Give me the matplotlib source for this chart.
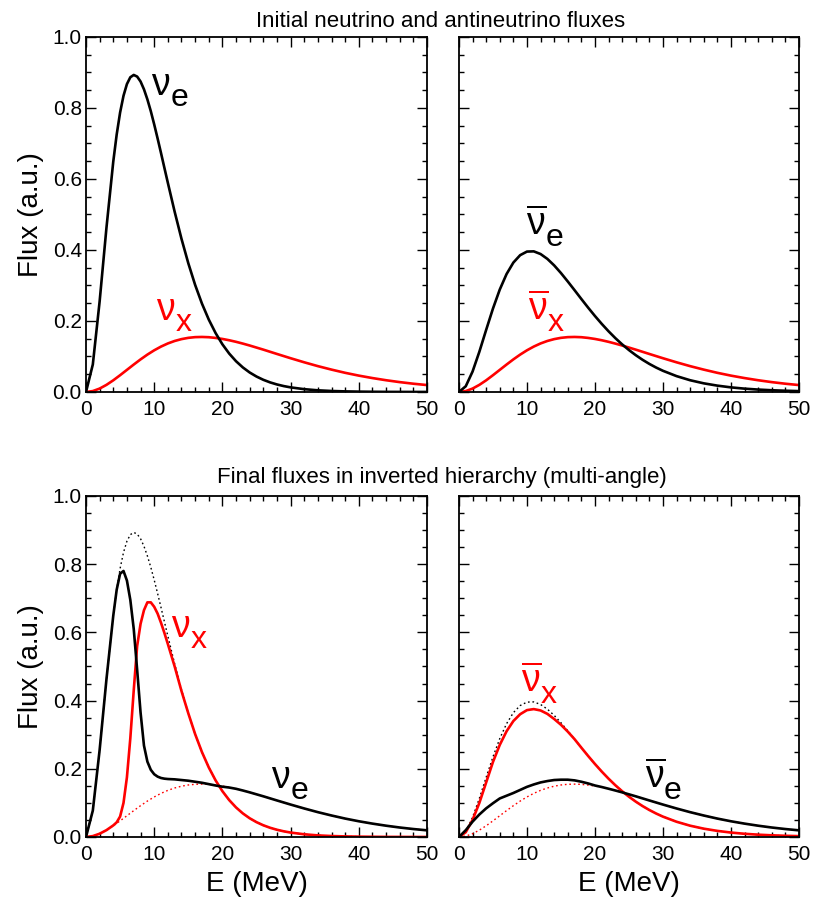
import matplotlib
matplotlib.use('Agg')
import matplotlib.pyplot as plt
from matplotlib.ticker import MultipleLocator

plt.rcParams['font.family'] = ['Liberation Sans', 'DejaVu Sans']
plt.rcParams['mathtext.fontset'] = 'custom'
plt.rcParams['mathtext.rm'] = 'Liberation Sans'
plt.rcParams['mathtext.it'] = 'Liberation Sans'

# ---------------- data ----------------
# coarse energy grid, MeV
E_INIT = list(range(0, 31)) + list(range(32, 51, 2))
# finer grid around the peaks / spectral split
E_FIN = [0, 1, 2, 3, 4, 4.5, 5, 5.5, 6, 6.5, 7, 7.5, 8, 8.5, 9, 9.5, 10, 10.5, 11, 11.5] + \
        list(range(12, 31)) + list(range(32, 51, 2))

# initial spectra
NUE_INIT = [0, 0.0775, 0.2553, 0.4626, 0.6492, 0.7252, 0.7872, 0.8344, 0.8673, 0.8865,
            0.8930, 0.8884, 0.8745, 0.8525, 0.8242, 0.7911, 0.7537, 0.7140, 0.6729, 0.6309,
            0.5892, 0.5076, 0.4315, 0.3626, 0.3017, 0.2490, 0.2040, 0.1660, 0.1343, 0.1081,
            0.0866, 0.0691, 0.0549, 0.0435, 0.0343, 0.0270, 0.0212, 0.0166, 0.0130,
            0.0079, 0.0047, 0.0028, 0.0017, 0.0010, 0.0006, 0.0003, 0.0002, 0.0001, 0.0001]
NUEB_INIT = [0, 0.0162, 0.0576, 0.1134, 0.1750, 0.2350, 0.2885, 0.3322, 0.3645, 0.3854,
             0.3955, 0.3961, 0.3886, 0.3749, 0.3566, 0.3350, 0.3113, 0.2868, 0.2619, 0.2375,
             0.2140, 0.1918, 0.1710, 0.1517, 0.1341, 0.1181, 0.1037, 0.0907, 0.0791, 0.0688,
             0.0597, 0.0447, 0.0331, 0.0244, 0.0179, 0.0130, 0.0094, 0.0068, 0.0049, 0.0035, 0.0025]
NUX_INIT = [0, 0.0026, 0.0096, 0.0201, 0.0329, 0.0473, 0.0623, 0.0773, 0.0918, 0.1053,
            0.1174, 0.1279, 0.1367, 0.1437, 0.1489, 0.1525, 0.1545, 0.1550, 0.1543, 0.1523,
            0.1494, 0.1457, 0.1413, 0.1363, 0.1309, 0.1251, 0.1193, 0.1132, 0.1071, 0.1011,
            0.0951, 0.0836, 0.0728, 0.0630, 0.0540, 0.0461, 0.0392, 0.0331, 0.0278, 0.0233, 0.0195]

# final neutrino spectra (E_FIN grid)
NUE_FIN = [0, 0.0775, 0.2553, 0.4626, 0.6492, 0.725, 0.772, 0.780, 0.752, 0.695,
           0.610, 0.490, 0.365, 0.268, 0.221, 0.197, 0.184, 0.177, 0.173, 0.171,
           0.170, 0.169, 0.167, 0.165, 0.162, 0.159, 0.155, 0.151, 0.1475, 0.1450,
           0.1413, 0.1363, 0.1309, 0.1251, 0.1193, 0.1132, 0.1071, 0.1011, 0.0951,
           0.0836, 0.0728, 0.0630, 0.0540, 0.0461, 0.0392, 0.0331, 0.0278, 0.0233, 0.0195]
NUX_FIN = [0, 0.0026, 0.0096, 0.0201, 0.0340, 0.043, 0.060, 0.100, 0.175, 0.290,
           0.430, 0.560, 0.625, 0.665, 0.688, 0.688, 0.675, 0.655, 0.628, 0.598,
           0.566, 0.500, 0.428, 0.3626, 0.3017, 0.2490, 0.2040, 0.1660, 0.1343, 0.1081,
           0.0866, 0.0691, 0.0549, 0.0435, 0.0343, 0.0270, 0.0212, 0.0166, 0.0130,
           0.0079, 0.0047, 0.0028, 0.0017, 0.0010, 0.0006, 0.0003, 0.0002, 0.0001, 0.0001]

# final antineutrino spectra (E_INIT grid)
NUEB_FIN = [0, 0.020, 0.045, 0.066, 0.084, 0.099, 0.113, 0.121, 0.129, 0.138,
            0.147, 0.154, 0.160, 0.164, 0.167, 0.168, 0.168, 0.166, 0.162, 0.157,
            0.151, 0.1465, 0.1415, 0.1363, 0.1309, 0.1251, 0.1193, 0.1132, 0.1071, 0.1011,
            0.0951, 0.0836, 0.0728, 0.0630, 0.0540, 0.0461, 0.0392, 0.0331, 0.0278, 0.0233, 0.0195]
NUXB_FIN = [0, 0.014, 0.050, 0.100, 0.160, 0.220, 0.270, 0.310, 0.340, 0.360,
            0.372, 0.375, 0.371, 0.361, 0.346, 0.329, 0.309, 0.2868, 0.2619, 0.2375,
            0.2140, 0.1918, 0.1710, 0.1517, 0.1341, 0.1181, 0.1037, 0.0907, 0.0791, 0.0688,
            0.0597, 0.0447, 0.0331, 0.0244, 0.0179, 0.0130, 0.0094, 0.0068, 0.0049, 0.0035, 0.0025]

TITLE_TOP = 'Initial neutrino and antineutrino fluxes'
TITLE_BOT = 'Final fluxes in inverted hierarchy (multi-angle)'
# ----------------------------------------------------------

RED = '#ff0000'
LW = 1.9
DOT = dict(lw=1.0, linestyle=(0, (1.2, 2.0)))


def setup(ax, left, bottom):
    ax.set_xlim(0, 50)
    ax.set_ylim(0, 1.0)
    ax.xaxis.set_major_locator(MultipleLocator(10))
    ax.xaxis.set_minor_locator(MultipleLocator(2))
    ax.yaxis.set_major_locator(MultipleLocator(0.2))
    ax.yaxis.set_minor_locator(MultipleLocator(0.05))
    ax.tick_params(which='both', direction='in', top=True, right=True, labelsize=15, width=1.0)
    ax.tick_params(which='major', length=7)
    ax.tick_params(which='minor', length=3.5)
    ax.tick_params(axis='x', which='major', pad=6)
    ax.tick_params(axis='y', which='major', pad=3)
    for s in ax.spines.values():
        s.set_linewidth(1.3)
    if left:
        ax.set_ylabel('Flux (a.u.)', fontsize=20, labelpad=6)
    else:
        ax.tick_params(labelleft=False)
    if bottom:
        ax.set_xlabel('E (MeV)', fontsize=20, labelpad=5)


def nu_label(ax, x, y, sub, color, bar=False):
    nu = r'$\overline{\nu}$' if bar else r'$\nu$'
    ax.text(x, y, nu, color=color, fontsize=27, ha='left', va='baseline')
    ax.annotate(sub, (x, y), xytext=(14, -8), textcoords='offset points',
                color=color, fontsize=23, ha='left', va='baseline')


fig = plt.figure(figsize=(8.19, 8.97), dpi=100)
ax_tl = fig.add_axes([0.1050, 0.5630, 0.4164, 0.3958])
ax_tr = fig.add_axes([0.5604, 0.5630, 0.4151, 0.3958])
ax_bl = fig.add_axes([0.1050, 0.0669, 0.4164, 0.3802])
ax_br = fig.add_axes([0.5604, 0.0669, 0.4151, 0.3802])

# initial fluxes
ax_tl.plot(E_INIT, NUX_INIT, color=RED, lw=LW)
ax_tl.plot(E_FIN, NUE_INIT, color='k', lw=LW)
nu_label(ax_tl, 9.5, 0.837, 'e', 'k')
nu_label(ax_tl, 10.3, 0.202, 'x', RED)

ax_tr.plot(E_INIT, NUX_INIT, color=RED, lw=LW)
ax_tr.plot(E_INIT, NUEB_INIT, color='k', lw=LW)
nu_label(ax_tr, 9.9, 0.442, 'e', 'k', bar=True)
nu_label(ax_tr, 10.2, 0.202, 'x', RED, bar=True)

# final fluxes, dotted = initial ones
ax_bl.plot(E_FIN, NUE_INIT, color='k', **DOT)
ax_bl.plot(E_INIT, NUX_INIT, color=RED, **DOT)
ax_bl.plot(E_FIN, NUX_FIN, color=RED, lw=LW)
ax_bl.plot(E_FIN, NUE_FIN, color='k', lw=LW)
nu_label(ax_bl, 12.5, 0.587, 'x', RED)
nu_label(ax_bl, 27.1, 0.143, 'e', 'k')

ax_br.plot(E_INIT, NUEB_INIT, color='k', **DOT)
ax_br.plot(E_INIT, NUX_INIT, color=RED, **DOT)
ax_br.plot(E_INIT, NUXB_FIN, color=RED, lw=LW)
ax_br.plot(E_INIT, NUEB_FIN, color='k', lw=LW)
nu_label(ax_br, 9.1, 0.425, 'x', RED, bar=True)
nu_label(ax_br, 27.3, 0.143, 'e', 'k', bar=True)

setup(ax_tl, True, False)
setup(ax_tr, False, False)
setup(ax_bl, True, True)
setup(ax_br, False, True)

fig.text(0.538, 0.970, TITLE_TOP, fontsize=16, ha='center', va='baseline')
fig.text(0.540, 0.4615, TITLE_BOT, fontsize=16, ha='center', va='baseline')

fig.savefig('out.png', dpi=100)
